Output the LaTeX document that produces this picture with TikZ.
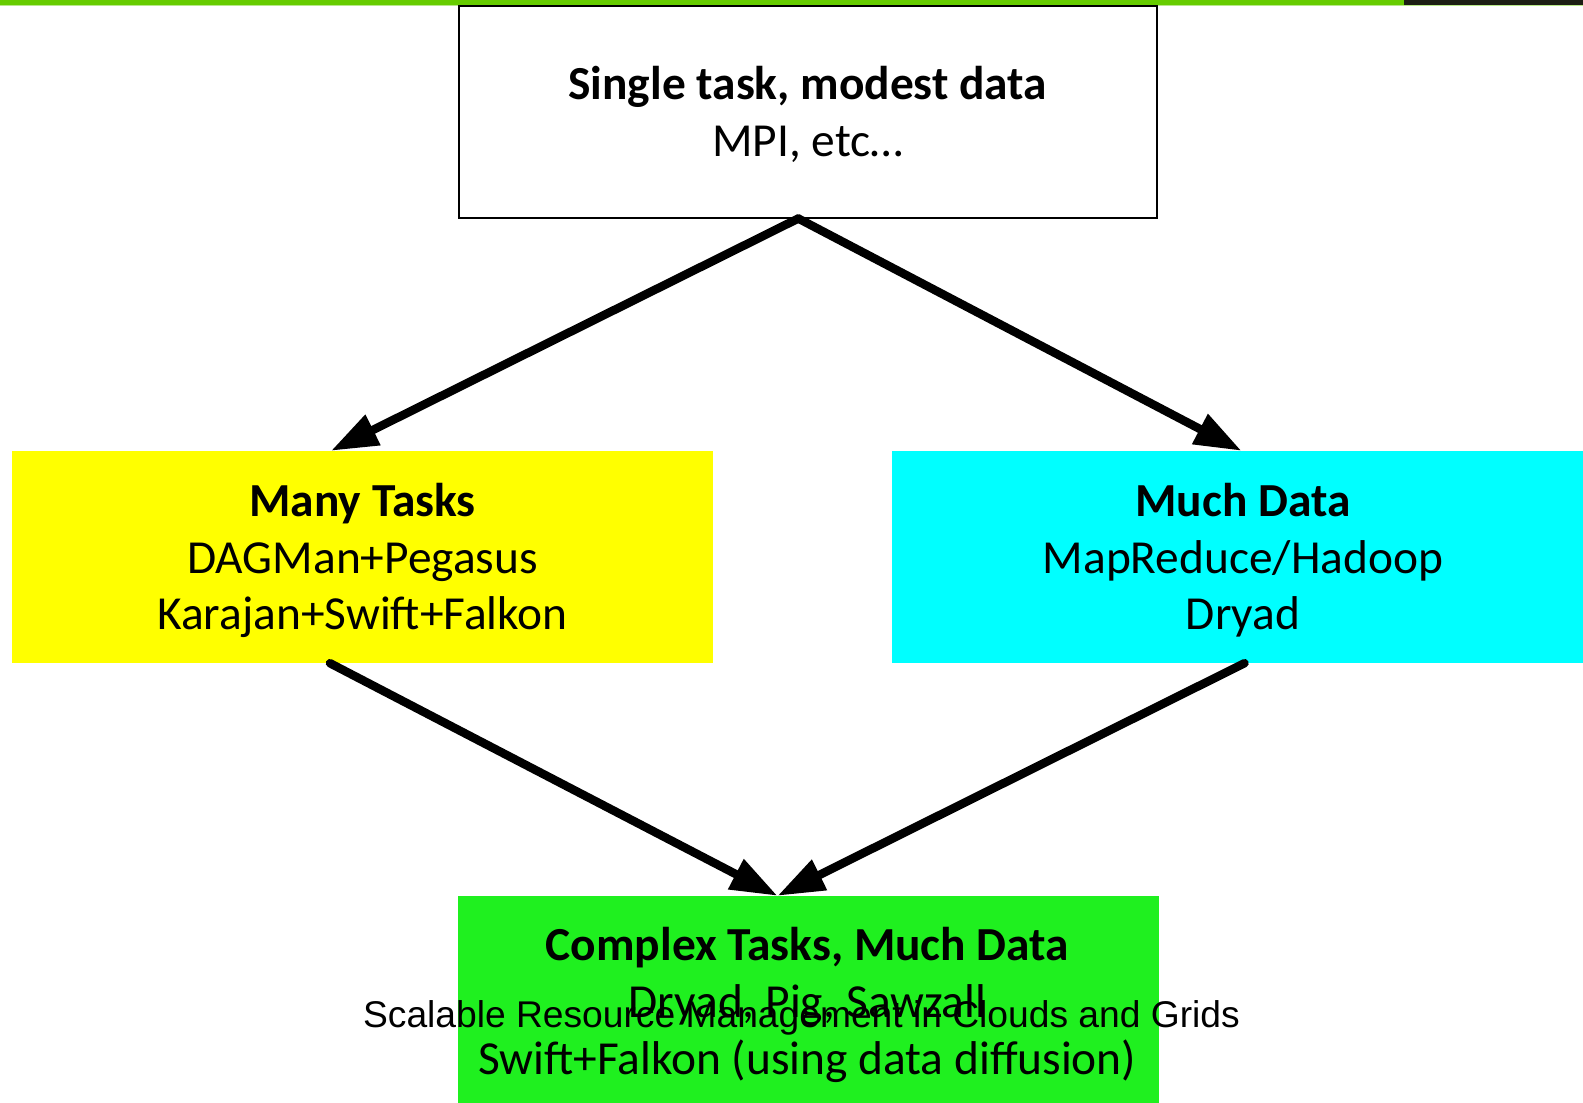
\documentclass[tikz,border=0pt]{standalone}
\usepackage{fontspec}
\setmainfont{Carlito}
\newfontfamily\footfont{Liberation Sans}
\usetikzlibrary{arrows.meta}
\definecolor{barGreen}{HTML}{66CC00}
\definecolor{barLight}{HTML}{B8E88A}
\definecolor{barDark}{HTML}{1C1E14}
\definecolor{boxYellow}{HTML}{FFFF00}
\definecolor{boxCyan}{HTML}{00FFFF}
\definecolor{boxGreen}{HTML}{1FF01F}
\tikzset{
  x=1pt, y=-1pt,
  boxstyle/.style={rectangle, inner sep=0pt},
  boxtext/.style={inner sep=0pt, align=center, font=\fontsize{47.4}{56.6}\selectfont},
  flowarrow/.style={line width=8.5pt, -{Triangle[length=47pt,width=32pt]}, line cap=round},
  footstyle/.style={font=\footfont\fontsize{37.2}{40}\selectfont, inner sep=0pt}
}
\begin{document}
\begin{tikzpicture}
\useasboundingbox (0,0) rectangle (1583,1103);
\begin{scope}
\clip (0,0) rectangle (1583,1103);
% top bar
\fill[barGreen] (0,0) rectangle (1404,5);
\fill[barDark] (1404,0) rectangle (1583,5);
\fill[barLight] (0,5) rectangle (1583,6);
% boxes
\node[boxstyle, draw=black, line width=2pt, fill=white,
      minimum width=698pt, minimum height=211.5pt] (top) at (807.8,111.75) {};
\node[boxstyle, fill=boxYellow, minimum width=701pt, minimum height=212pt] (many) at (362.5,557) {};
\node[boxstyle, fill=boxCyan, minimum width=702pt, minimum height=212pt] (much) at (1243,557) {};
\node[boxstyle, fill=boxGreen, minimum width=701pt, minimum height=208pt] (cplx) at (808.5,1000) {};
% box texts
\node[boxtext] (toptext) at ([yshift=-2.5pt]top.center)
  {\textbf{Single task, modest data}\\MPI, etc…};
\node[boxtext] (manytext) at ([yshift=-3.5pt]many.center)
  {\textbf{Many Tasks}\\DAGMan+Pegasus\\Karajan+Swift+Falkon};
\node[boxtext] (muchtext) at ([yshift=-3.5pt]much.center)
  {\textbf{Much Data}\\MapReduce/Hadoop\\Dryad};
\node[boxtext] (cplxtext) at ([xshift=-1pt,yshift=-5pt]cplx.center)
  {\textbf{Complex Tasks, Much Data}\\Dryad, Pig, Sawzall\\Swift+Falkon (using data diffusion)};
% arrows
\draw[flowarrow] ([xshift=-9.5pt]top.south) -- ([xshift=-31.5pt]many.north);
\draw[flowarrow] ([xshift=-9.5pt]top.south) -- ([xshift=-1.5pt]much.north);
\draw[flowarrow] ([xshift=-32.5pt]many.south) -- ([xshift=-31pt]cplx.north);
\draw[flowarrow] ([xshift=1.5pt]much.south) -- ([xshift=-31pt]cplx.north);
% footer
\node[footstyle] (foot) at (801.5,1018)
  {Scalable Resource Management in Clouds and Grids};
\node[footstyle, anchor=west] (pnum) at (1581.5,1018) {\makebox[1.5pt][l]{2}};
\end{scope}
\end{tikzpicture}
\end{document}
